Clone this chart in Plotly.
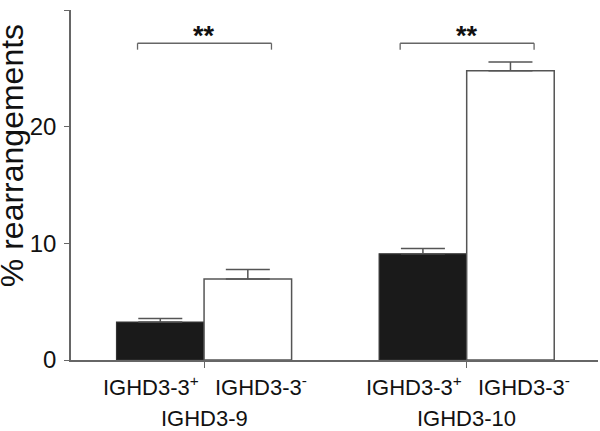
import plotly.graph_objects as go

groups = ["IGHD3-9", "IGHD3-10"]
subgroups = ["IGHD3-3<sup>+</sup>", "IGHD3-3<sup>-</sup>"]
pos_values = [3.25, 9.1]
pos_errors = [0.3, 0.45]
neg_values = [6.95, 24.8]
neg_errors = [0.8, 0.75]
significance = ["**", "**"]
y_ticks = [0, 10, 20, 30]

FONT = "Liberation Sans, Arial, Helvetica, sans-serif"
AX = "#666666"

# group centers (between the two bars)
centers = [1.5 + 3 * i for i in range(len(groups))]
pos_x = [c - 0.5 for c in centers]
neg_x = [c + 0.5 for c in centers]

fig = go.Figure()
fig.add_trace(go.Bar(
    x=pos_x, y=pos_values, width=1.0,
    marker=dict(color="#1a1a1a", line=dict(color="#333333", width=1.2)),
    error_y=dict(type="data", array=pos_errors, arrayminus=[0] * len(pos_errors),
                 symmetric=False, color="#555555", thickness=1.5, width=22),
    showlegend=False,
))
fig.add_trace(go.Bar(
    x=neg_x, y=neg_values, width=1.0,
    marker=dict(color="#ffffff", line=dict(color="#555555", width=1.5)),
    error_y=dict(type="data", array=neg_errors, arrayminus=[0] * len(neg_errors),
                 symmetric=False, color="#555555", thickness=1.5, width=22),
    showlegend=False,
))

shapes = []
annotations = []
for i, c in enumerate(centers):
    x0, x1 = c - 0.76, c + 0.77
    yb, yh = 27.15, 26.6
    for (a, b, ya, yb2) in [(x0, x1, yb, yb), (x0, x0, yb, yh), (x1, x1, yb, yh)]:
        shapes.append(dict(type="line", xref="x", yref="y", x0=a, x1=b, y0=ya, y1=yb2,
                           line=dict(color=AX, width=1.3)))
    annotations.append(dict(x=c, y=28.1, xref="x", yref="y", text="<b>" + significance[i] + "</b>",
                            showarrow=False, yanchor="middle", yshift=-4,
                            font=dict(family=FONT, size=27, color="#111111")))
    annotations.append(dict(x=c, y=0, xref="x", yref="y", text=subgroups[0], showarrow=False,
                            xanchor="right", yanchor="middle", xshift=-3, yshift=-26,
                            font=dict(family=FONT, size=22, color="#111111")))
    annotations.append(dict(x=c, y=0, xref="x", yref="y", text=subgroups[1], showarrow=False,
                            xanchor="left", yanchor="middle", xshift=9, yshift=-26,
                            font=dict(family=FONT, size=22, color="#111111")))
    annotations.append(dict(x=c, y=0, xref="x", yref="y", text=groups[i], showarrow=False,
                            xanchor="center", yanchor="middle", yshift=-58,
                            font=dict(family=FONT, size=22, color="#111111")))

# title: glyphs from x~2 to x~25 px, centred at y~155 px
annotations.append(dict(x=-0.1128, y=0.584, xref="paper", yref="paper", text="% rearrangements",
                        textangle=-90, showarrow=False, xanchor="center", yanchor="middle",
                        font=dict(family=FONT, size=32, color="#111111")))

fig.update_layout(
    width=600, height=431,
    margin=dict(l=71, r=2, t=10, b=71),
    paper_bgcolor="white", plot_bgcolor="white",
    barmode="overlay",
    shapes=shapes, annotations=annotations,
    xaxis=dict(range=[-0.02, 6.0], tickvals=centers, ticktext=["", ""], ticks="outside",
               ticklen=6, tickcolor=AX, tickwidth=1.3, showline=True, linecolor=AX, linewidth=1.5,
               showgrid=False, zeroline=False, fixedrange=True),
    yaxis=dict(range=[0, 30], tickvals=y_ticks, ticks="outside", ticklen=5, tickcolor=AX,
               tickwidth=1.3, showline=True, linecolor=AX, linewidth=1.5, showgrid=False,
               zeroline=False, ticklabelstandoff=3,
               tickfont=dict(family=FONT, size=24, color="#111111")),
)

fig.write_html("out.html", config={"displayModeBar": False},
               post_script="document.body.style.margin='0';")
